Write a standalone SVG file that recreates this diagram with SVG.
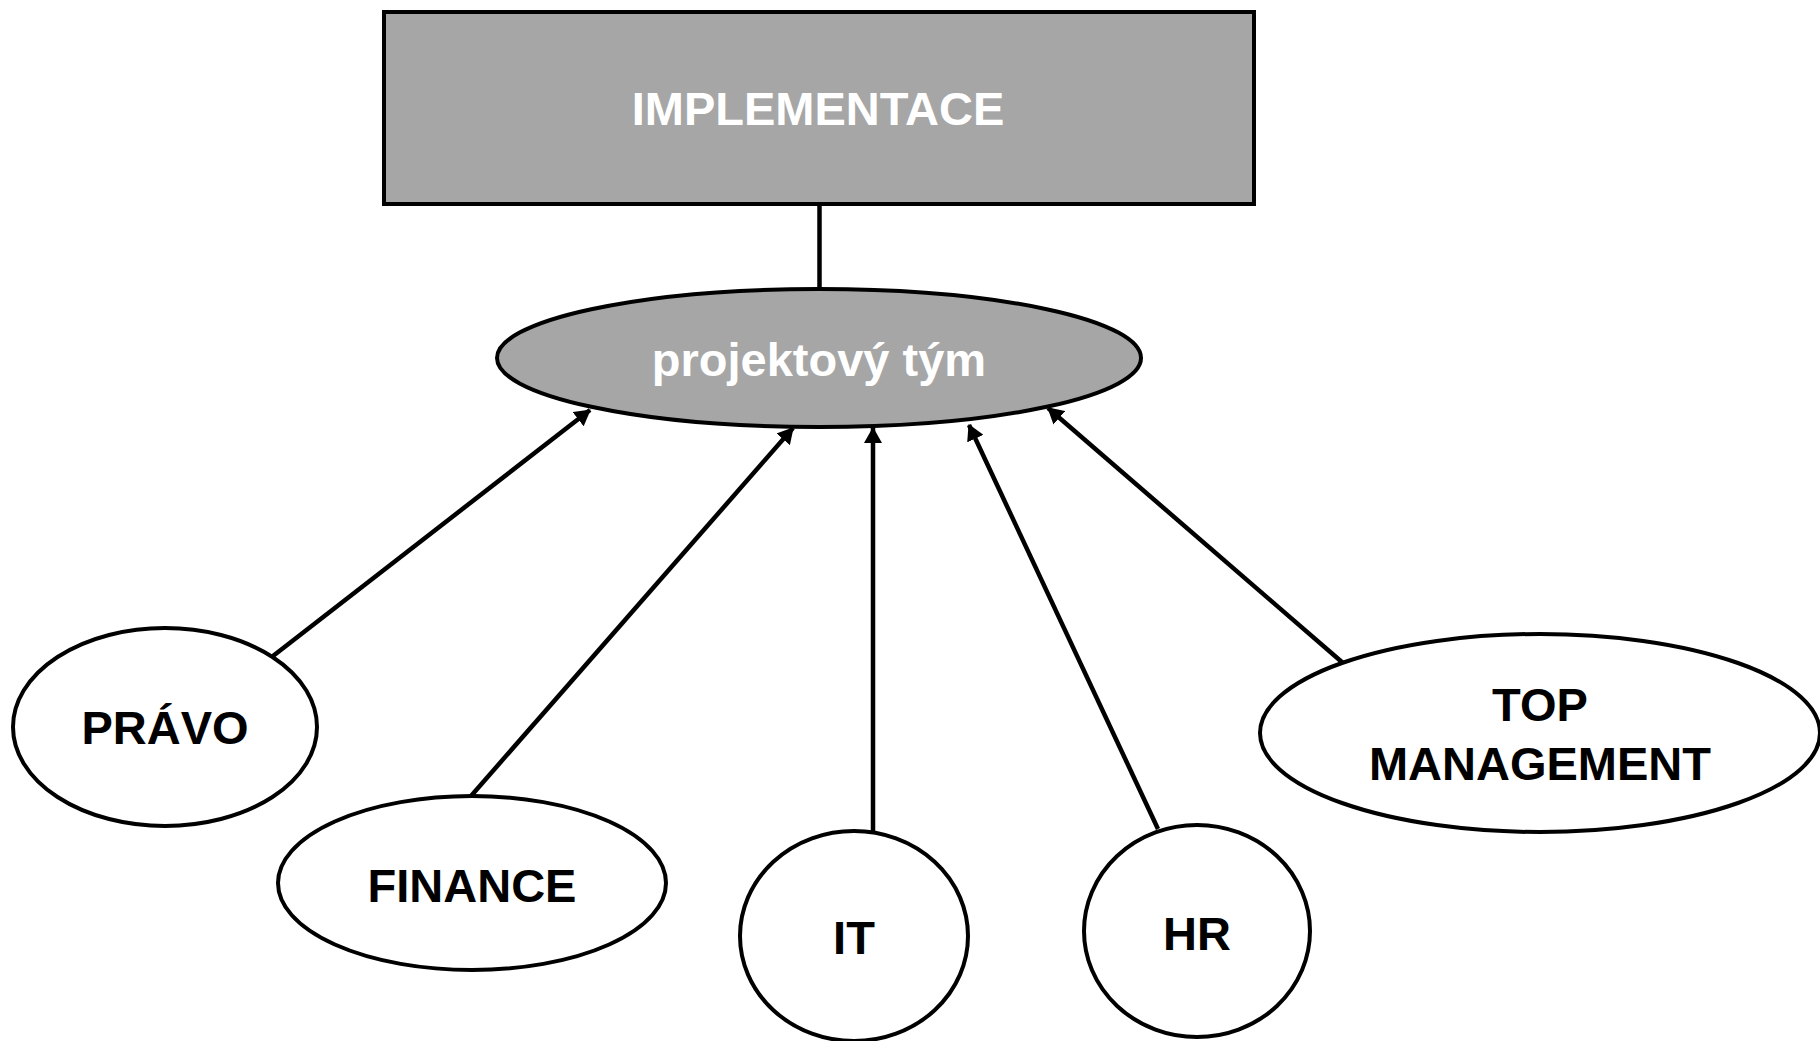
<svg xmlns="http://www.w3.org/2000/svg" width="1820" height="1041" viewBox="0 0 1820 1041">
  <defs>
    <style>
      .box { fill: #a6a6a6; stroke: #000; stroke-width: 4; }
      .node { fill: #fff; stroke: #000; stroke-width: 4; }
      .lbl { font-family: "Liberation Sans", Arial, sans-serif; font-weight: bold; font-size: 47px; text-anchor: middle; fill: #000; }
      .wlbl { fill: #fff; }
      .conn { stroke: #000; stroke-width: 4.5; fill: none; }
    </style>
    <marker id="arrow" viewBox="0 0 16 18" refX="15" refY="9" markerWidth="16" markerHeight="18" markerUnits="userSpaceOnUse" orient="auto">
      <path d="M0,0 L16,9 L0,18 Z" fill="#000"/>
    </marker>
  </defs>
  <rect width="1820" height="1041" fill="#fff"/>
  <g id="connectors">
    <line class="conn" x1="819.5" y1="204" x2="819.5" y2="289"/>
    <line class="conn" x1="273" y1="656" x2="590" y2="410" marker-end="url(#arrow)"/>
    <line class="conn" x1="471" y1="796" x2="793" y2="428" marker-end="url(#arrow)"/>
    <line class="conn" x1="873" y1="833" x2="873" y2="428" marker-end="url(#arrow)"/>
    <line class="conn" x1="1158" y1="829" x2="969" y2="425" marker-end="url(#arrow)"/>
    <line class="conn" x1="1343" y1="663" x2="1048" y2="408" marker-end="url(#arrow)"/>
  </g>
  <g id="implementace">
    <rect class="box" x="384" y="12" width="870" height="192"/>
    <text class="lbl wlbl" x="818" y="125">IMPLEMENTACE</text>
  </g>
  <g id="projektovy-tym">
    <ellipse class="box" cx="819" cy="358" rx="322" ry="69"/>
    <text class="lbl wlbl" x="819" y="376">projektový tým</text>
  </g>
  <g id="pravo">
    <ellipse class="node" cx="165" cy="727" rx="152" ry="99"/>
    <text class="lbl" x="165" y="744">PRÁVO</text>
  </g>
  <g id="finance">
    <ellipse class="node" cx="472" cy="883" rx="194" ry="87"/>
    <text class="lbl" x="472" y="902">FINANCE</text>
  </g>
  <g id="it">
    <ellipse class="node" cx="854" cy="936" rx="114" ry="105"/>
    <text class="lbl" x="854" y="954">IT</text>
  </g>
  <g id="hr">
    <ellipse class="node" cx="1197" cy="931" rx="113" ry="106"/>
    <text class="lbl" x="1197" y="950">HR</text>
  </g>
  <g id="top-management">
    <ellipse class="node" cx="1540" cy="733" rx="280" ry="99"/>
    <text class="lbl" x="1540" y="721">TOP</text>
    <text class="lbl" x="1540" y="780">MANAGEMENT</text>
  </g>
</svg>
